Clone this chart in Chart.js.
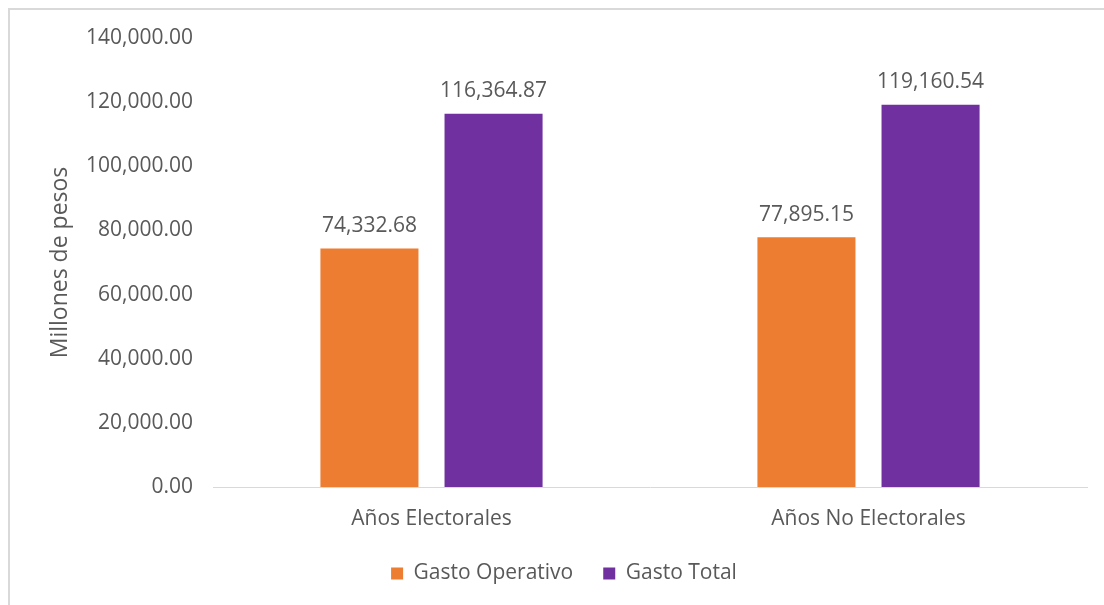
<!DOCTYPE html>
<html>
<head>
<meta charset="utf-8">
<script src="https://cdn.jsdelivr.net/npm/chart.js@4/dist/chart.umd.min.js"></script>
<style>
  html, body { margin: 0; padding: 0; background: #fff; }
  #frame { position: absolute; left: 8px; top: 8px; width: 1110px; height: 620px; border: 2px solid #d9d9d9; box-sizing: border-box; }
  #wrap { position: absolute; left: 0; top: 0; width: 1104px; height: 605px; }
</style>
</head>
<body>
<div id="frame"></div>
<div id="wrap"><canvas id="chart"></canvas></div>
<script>
var categorias = ['Años Electorales', 'Años No Electorales']
var gastoOperativo = [74332.68, 77895.15]
var gastoTotal = [116364.87, 119160.54]
var yMin = 0, yMax = 140000, yPaso = 20000

var fuente = "'Open Sans', sans-serif"
var gris = '#595959'

function formato(v) {
    return v.toLocaleString('en-US', {minimumFractionDigits: 2, maximumFractionDigits: 2})
}

// etiquetas de valor encima de cada barra
var etiquetas = {
    id: 'etiquetas',
    afterDatasetsDraw: function(chart) {
        var ctx = chart.ctx
        ctx.save()
        ctx.font = '21px ' + fuente
        ctx.fillStyle = gris
        ctx.textAlign = 'center'
        ctx.textBaseline = 'bottom'
        chart.data.datasets.forEach(function(ds, i) {
            chart.getDatasetMeta(i).data.forEach(function(bar, j) {
                ctx.fillText(formato(ds.data[j]), bar.x, bar.y - 12)
            })
        })
        ctx.restore()
    }
}

var ctx = document.getElementById('chart')

var grafico = new Chart(ctx, {
    type: 'bar',
    data: {
        labels: categorias,
        datasets: [
            {label: 'Gasto Operativo', data: gastoOperativo, backgroundColor: '#ED7D31'},
            {label: 'Gasto Total', data: gastoTotal, backgroundColor: '#7030A0'}
        ]
    },
    options: {
        responsive: true,
        maintainAspectRatio: false,
        animation: false,
        categoryPercentage: 0.568,
        barPercentage: 0.79,
        layout: {padding: {left: 41, right: 17, top: 38, bottom: 11}},
        plugins: {
            tooltip: {enabled: false},
            legend: {
                position: 'bottom',
                labels: {
                    font: {family: fuente, size: 21},
                    color: gris,
                    boxWidth: 12,
                    boxHeight: 12,
                    padding: 30
                }
            }
        },
        scales: {
            x: {
                grid: {display: false},
                border: {display: true, color: '#d9d9d9', width: 1},
                ticks: {font: {family: fuente, size: 21}, color: gris, padding: 11},
                afterFit: function(scale) { scale.height = 46 }
            },
            y: {
                min: yMin,
                max: yMax,
                grid: {display: false, drawTicks: false},
                border: {display: false},
                ticks: {
                    stepSize: yPaso,
                    font: {family: fuente, size: 21},
                    color: gris,
                    padding: 20,
                    callback: function(v) { return formato(v) }
                },
                title: {
                    display: true,
                    text: 'Millones de pesos',
                    font: {family: fuente, size: 23},
                    color: gris,
                    padding: {top: 6, bottom: 0}
                },
                afterFit: function(scale) { scale.width = 172 }
            }
        }
    },
    plugins: [etiquetas]
})
</script>
</body>
</html>
